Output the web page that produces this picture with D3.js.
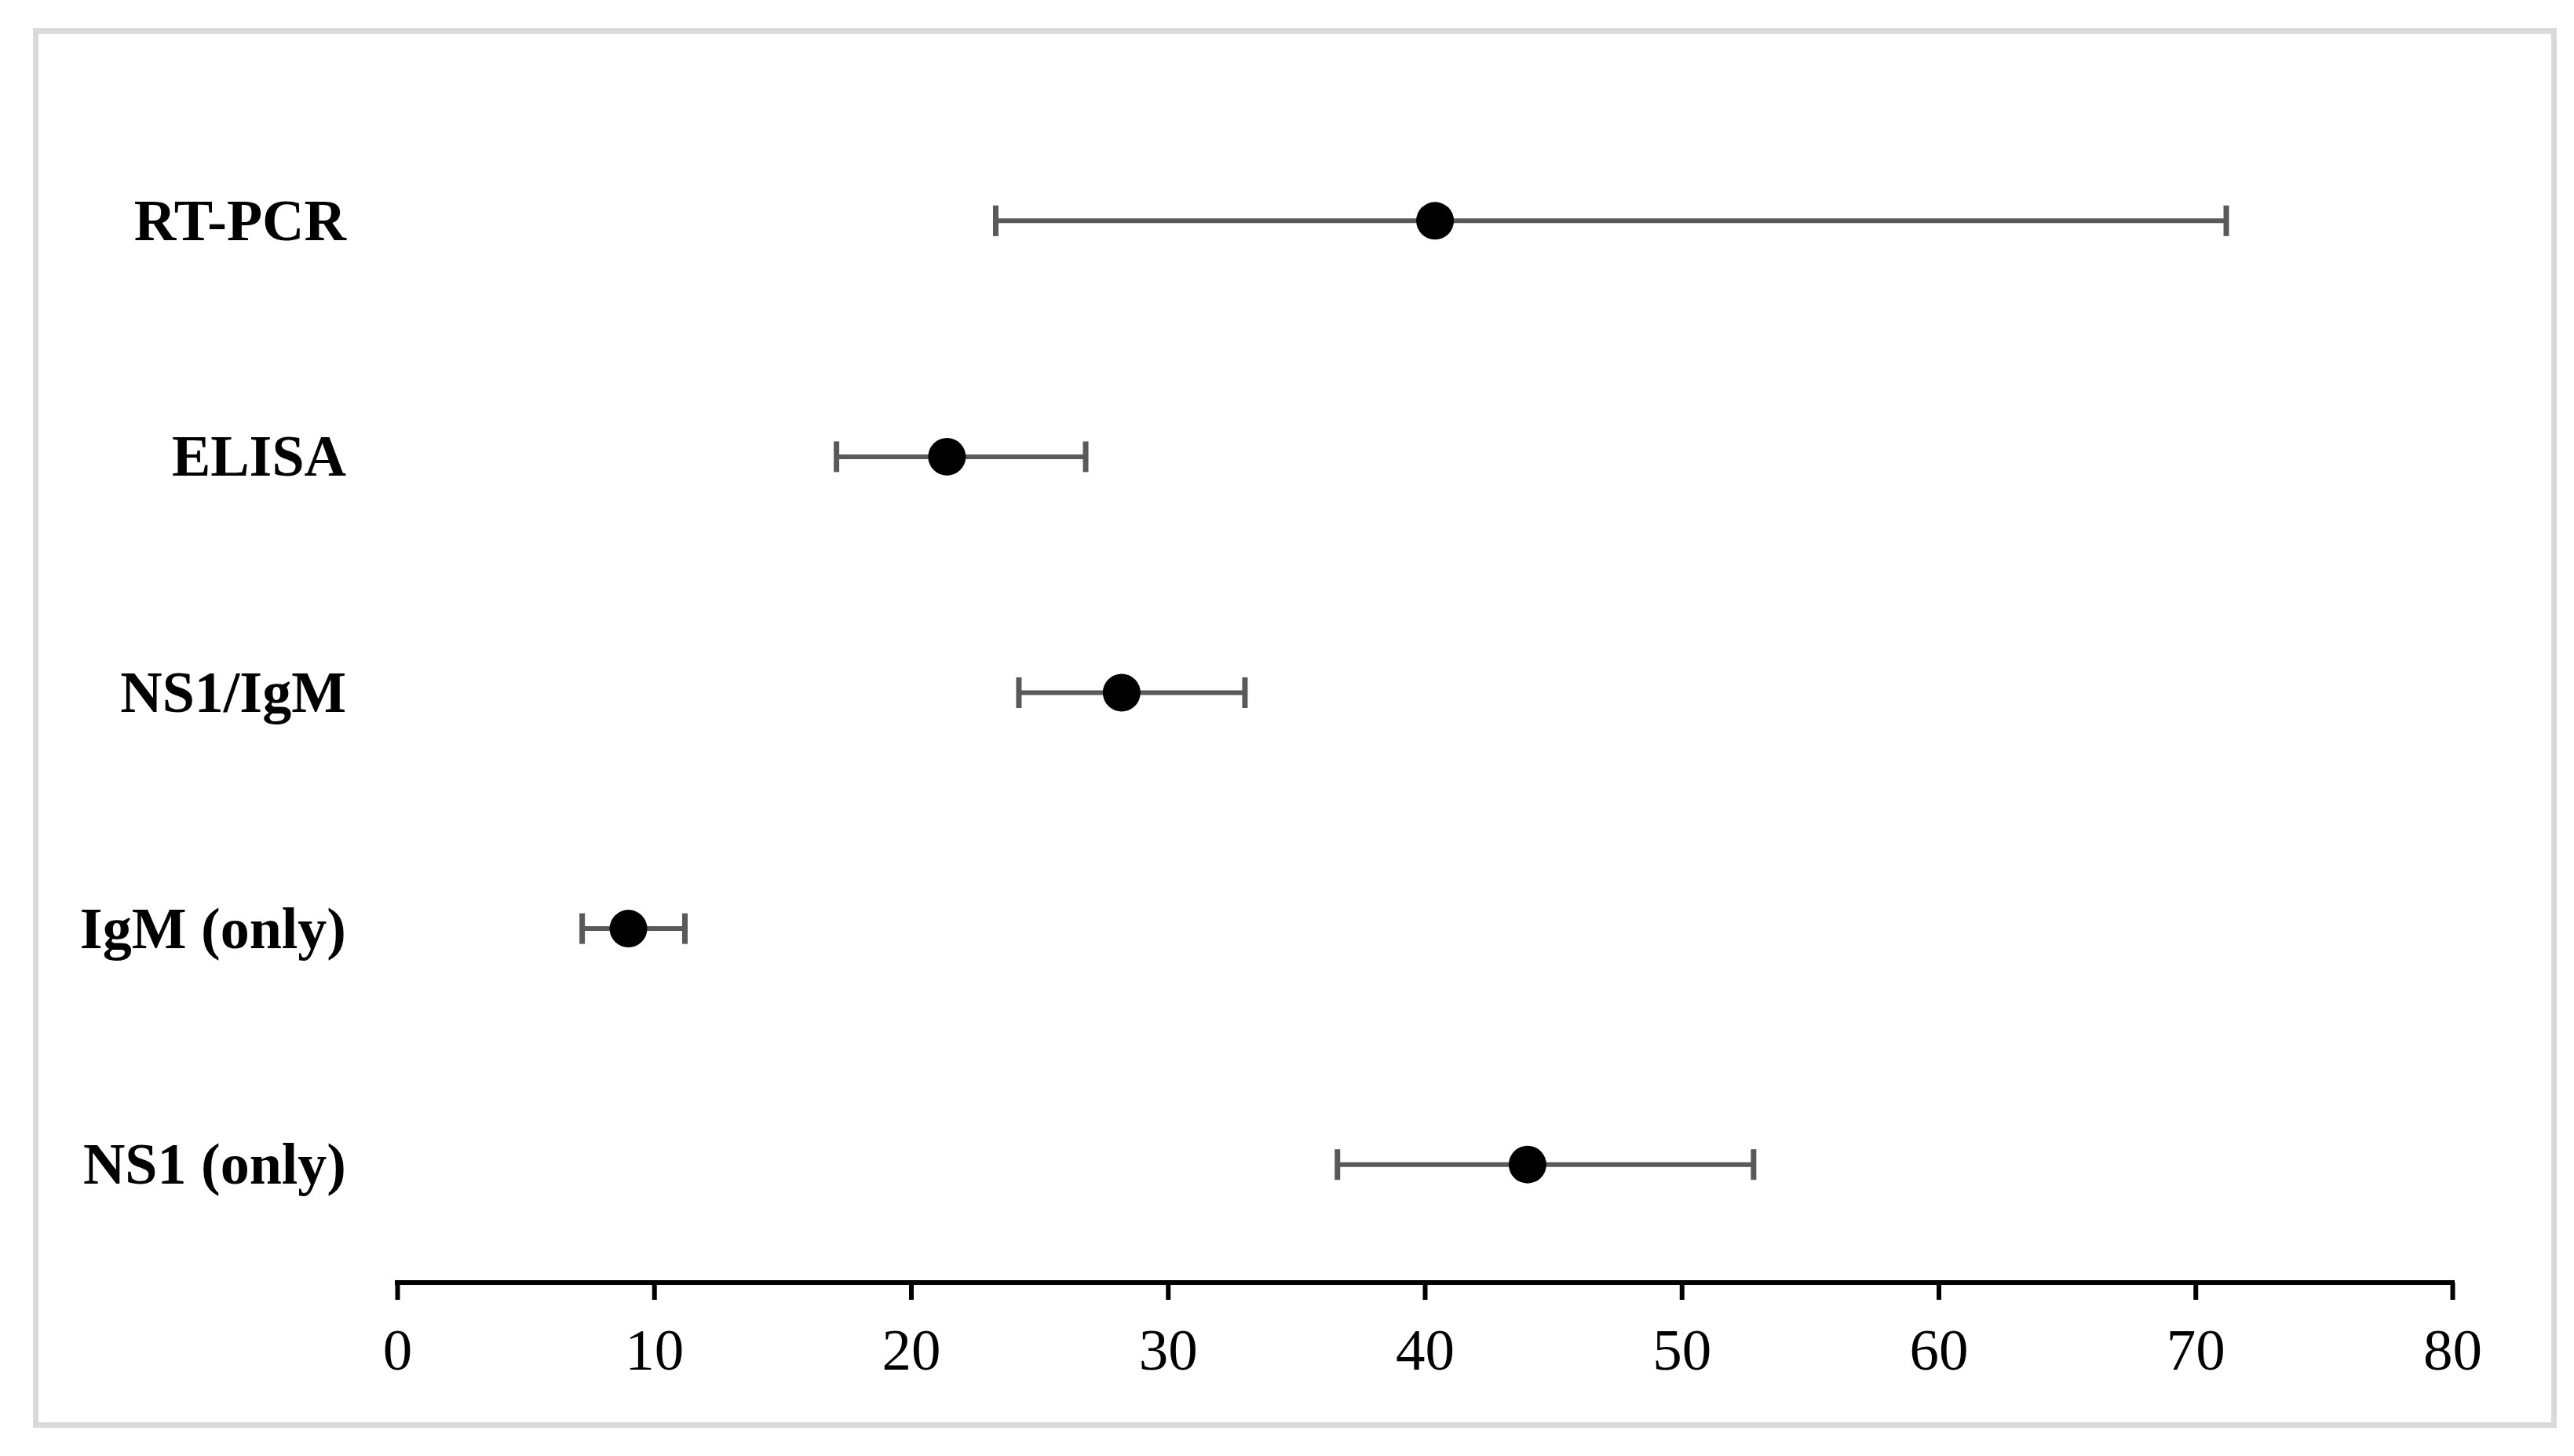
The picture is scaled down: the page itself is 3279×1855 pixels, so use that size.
<!DOCTYPE html>
<html>
<head>
<meta charset="utf-8">
<script src="https://cdn.jsdelivr.net/npm/d3@7"></script>
<style>
  html, body { margin: 0; padding: 0; background: #ffffff; }
  svg { display: block; }
</style>
</head>
<body>
<svg id="chart" width="3279" height="1855"></svg>
<script>
// ---- Data ----
const categories = ["RT-PCR", "ELISA", "NS1/IgM", "IgM (only)", "NS1 (only)"];
const pointValues = [40.4, 21.4, 28.2, 9.0, 44.0];
const lowerValues = [23.3, 17.1, 24.2, 7.2, 36.6];
const upperValues = [71.2, 26.8, 33.0, 11.2, 52.8];
const xTicks = [0, 10, 20, 30, 40, 50, 60, 70, 80];

const rows = categories.map((c, i) => ({
  cat: c, val: pointValues[i], lo: lowerValues[i], hi: upperValues[i]
}));

// ---- Layout ----
const W = 3279, H = 1855;
const svg = d3.select("#chart");

svg.append("rect")
  .attr("x", 0).attr("y", 0).attr("width", W).attr("height", H)
  .attr("fill", "#ffffff");

// frame
svg.append("rect")
  .attr("x", 45.5).attr("y", 39.5)
  .attr("width", 3208).attr("height", 1776)
  .attr("fill", "none")
  .attr("stroke", "#d9d9d9")
  .attr("stroke-width", 7);

const x = d3.scaleLinear().domain([0, 80]).range([506, 3124]);
const y = d3.scalePoint().domain(categories).range([131, 1634]).padding(0.5);
const axisY = 1634;

// x axis
const xAxis = d3.axisBottom(x)
  .tickValues(xTicks)
  .tickFormat(d3.format("d"))
  .tickSizeInner(22)
  .tickSizeOuter(0)
  .tickPadding(36);

const gx = svg.append("g")
  .attr("transform", `translate(0,${axisY})`)
  .call(xAxis);
gx.select(".domain")
  .attr("stroke", "#000")
  .attr("stroke-width", 6)
  .attr("d", `M${x(0) - 3},0H${x(80) + 3}`);
gx.selectAll(".tick line")
  .attr("stroke", "#000")
  .attr("stroke-width", 6);
gx.selectAll(".tick text")
  .attr("fill", "#000")
  .attr("font-family", "'Liberation Serif', 'Times New Roman', serif")
  .attr("font-size", 75);

// category labels
svg.append("g")
  .selectAll("text")
  .data(categories)
  .join("text")
  .attr("x", 441)
  .attr("y", d => y(d))
  .attr("dy", "0.33em")
  .attr("text-anchor", "end")
  .attr("font-family", "'Liberation Serif', 'Times New Roman', serif")
  .attr("font-weight", "bold")
  .attr("font-size", 74)
  .attr("fill", "#000")
  .text(d => d);

// error bars
const eb = svg.append("g")
  .selectAll("g")
  .data(rows)
  .join("g");

eb.append("line")
  .attr("x1", d => x(d.lo)).attr("x2", d => x(d.hi))
  .attr("y1", d => y(d.cat)).attr("y2", d => y(d.cat))
  .attr("stroke", "#595959").attr("stroke-width", 6);

eb.append("line")
  .attr("x1", d => x(d.lo)).attr("x2", d => x(d.lo))
  .attr("y1", d => y(d.cat) - 19.5).attr("y2", d => y(d.cat) + 19.5)
  .attr("stroke", "#595959").attr("stroke-width", 7);

eb.append("line")
  .attr("x1", d => x(d.hi)).attr("x2", d => x(d.hi))
  .attr("y1", d => y(d.cat) - 19.5).attr("y2", d => y(d.cat) + 19.5)
  .attr("stroke", "#595959").attr("stroke-width", 7);

eb.append("circle")
  .attr("cx", d => x(d.val))
  .attr("cy", d => y(d.cat))
  .attr("r", 24)
  .attr("fill", "#000");
</script>
</body>
</html>
